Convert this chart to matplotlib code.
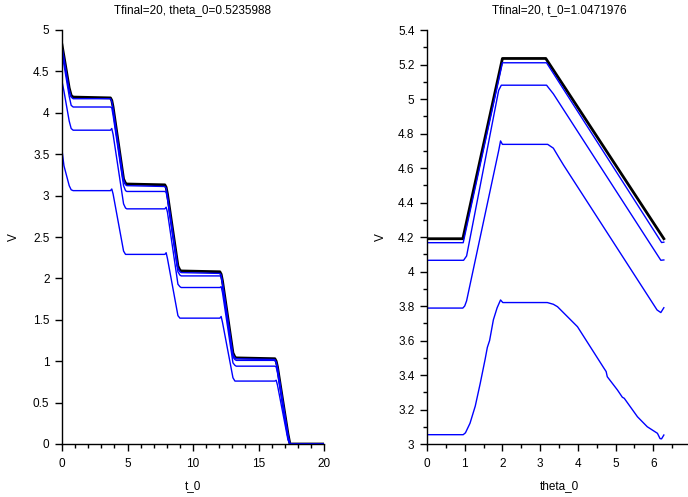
#!/usr/bin/env python
# -*- coding: utf-8 -*-
import sys

import matplotlib
matplotlib.use('Agg')
import matplotlib.pyplot as plt
from matplotlib.ticker import MultipleLocator, NullLocator, FuncFormatter

# left panel: V against t_0 (theta_0 fixed)
t_knots = [0, 0.15, 0.55, 0.7, 0.85,
           3.7, 3.8, 3.9, 4.7, 4.85, 4.95,
           7.85, 7.95, 8.05, 8.85, 9.0, 9.1,
           12.05, 12.15, 12.25, 13.05, 13.2, 13.3,
           16.25, 16.35, 16.45, 17.25, 17.4, 20]
v_t_black = [4.82, 4.68, 4.30, 4.21, 4.19,
             4.18, 4.15, 4.07, 3.20, 3.15, 3.14,
             3.13, 3.10, 3.02, 2.15, 2.10, 2.09,
             2.08, 2.05, 1.97, 1.10, 1.05, 1.04,
             1.03, 1.00, 0.93, 0.12, 0.0, 0.0]
v_t_blue = [
    [4.80, 4.66, 4.28, 4.19, 4.17,
     4.17, 4.14, 4.05, 3.19, 3.13, 3.12,
     3.11, 3.09, 3.00, 2.13, 2.08, 2.07,
     2.06, 2.04, 1.95, 1.08, 1.04, 1.03,
     1.02, 0.99, 0.92, 0.11, 0.0, 0.0],
    [4.72, 4.58, 4.20, 4.09, 4.07,
     4.07, 4.06, 3.97, 3.12, 3.06, 3.05,
     3.05, 3.04, 2.96, 2.08, 2.04, 2.03,
     2.03, 2.02, 1.93, 1.05, 1.02, 1.01,
     1.01, 0.98, 0.91, 0.10, 0.0, 0.0],
    [4.38, 4.26, 3.90, 3.81, 3.79,
     3.79, 3.81, 3.74, 2.90, 2.85, 2.84,
     2.84, 2.86, 2.80, 1.93, 1.90, 1.89,
     1.89, 1.90, 1.83, 0.98, 0.95, 0.94,
     0.94, 0.93, 0.86, 0.08, 0.0, 0.0],
    [3.55, 3.36, 3.12, 3.07, 3.06,
     3.06, 3.08, 3.02, 2.33, 2.29, 2.29,
     2.29, 2.31, 2.24, 1.55, 1.52, 1.52,
     1.52, 1.54, 1.47, 0.80, 0.76, 0.76,
     0.76, 0.77, 0.71, 0.05, 0.0, 0.0],
]

# right panel: V against theta_0 (t_0 fixed)
th_black = [0, 0.95, 2.0, 3.15, 6.28]
v_th_black = [4.19, 4.19, 5.235, 5.235, 4.19]
th_a = [0, 0.96, 2.0, 3.17, 6.22, 6.28]
v_th_a = [4.167, 4.167, 5.21, 5.21, 4.168, 4.17]
th_b = [0, 0.97, 1.05, 1.9, 1.97, 3.17, 3.35, 6.2, 6.28]
v_th_b = [4.065, 4.065, 4.09, 5.05, 5.08, 5.08, 5.03, 4.065, 4.067]
th_c = [0, 0.95, 1.0, 1.05, 1.9, 1.95, 2.0, 3.2, 3.35, 3.5, 3.62,
        5.56, 6.1, 6.2, 6.28]
v_th_c = [3.788, 3.788, 3.80, 3.83, 4.70, 4.757, 4.737, 4.737, 4.715,
          4.66, 4.617, 3.96, 3.777, 3.762, 3.79]
th_d = [0, 0.96, 1.02, 1.14, 1.28, 1.41, 1.54, 1.60, 1.66, 1.76, 1.86,
        1.95, 2.01, 3.19, 3.35, 3.46, 3.99, 4.69, 4.75, 4.78, 5.05, 5.18,
        5.23, 5.58, 5.84, 6.11, 6.18, 6.22, 6.28]
v_th_d = [3.054, 3.054, 3.065, 3.12, 3.22, 3.35, 3.49, 3.56, 3.60, 3.72,
          3.79, 3.835, 3.82, 3.82, 3.81, 3.796, 3.68, 3.44, 3.42, 3.39,
          3.313, 3.271, 3.265, 3.158, 3.10, 3.062, 3.031, 3.03, 3.052]

BLUE = '#0000ff'


def style_axes(ax, xmajor, xminor, ymajor, yminor):
    for side in ('top', 'right'):
        ax.spines[side].set_visible(False)
    for side in ('left', 'bottom'):
        ax.spines[side].set_linewidth(1.0)
    ax.xaxis.set_major_locator(MultipleLocator(xmajor))
    ax.yaxis.set_major_locator(MultipleLocator(ymajor))
    ax.xaxis.set_minor_locator(MultipleLocator(xminor) if xminor else NullLocator())
    ax.yaxis.set_minor_locator(MultipleLocator(yminor) if yminor else NullLocator())
    fmt = FuncFormatter(lambda v, pos: '{:g}'.format(round(v, 6)))
    ax.xaxis.set_major_formatter(fmt)
    ax.yaxis.set_major_formatter(fmt)
    ax.tick_params(which='major', direction='out', length=5, width=1.0,
                   labelsize=8.5)
    ax.tick_params(which='minor', direction='out', length=2.8, width=1.0)
    ax.tick_params(axis='x', pad=5)
    ax.tick_params(axis='y', pad=4)
    ax.tick_params(top=False, right=False, which='both')


def main():
    plt.rcParams['font.family'] = ['Liberation Sans', 'DejaVu Sans']
    fig = plt.figure(figsize=(6.88, 4.97), dpi=100)

    ax1 = fig.add_axes([62 / 688, 53 / 497, 262 / 688, 414 / 497])
    ax1.plot(t_knots, v_t_black, color='black', lw=2.0)
    for v in v_t_blue:
        ax1.plot(t_knots, v, color=BLUE, lw=1.0)
    ax1.set_xlim(0, 20)
    ax1.set_ylim(0, 5)
    style_axes(ax1, 5, 1, 0.5, None)
    ax1.set_title('Tfinal=20, theta_0=0.5235988', fontsize=8.5, pad=12)
    ax1.set_xlabel('t_0', fontsize=8.5)
    ax1.set_ylabel('V', fontsize=8.5)
    ax1.xaxis.set_label_coords(0.5, -0.087)
    ax1.yaxis.set_label_coords(-0.160, 0.5)

    ax2 = fig.add_axes([427 / 688, 53 / 497, 264 / 688, 414 / 497])
    ax2.plot(th_black, v_th_black, color='black', lw=2.0)
    for th, v in ((th_a, v_th_a), (th_b, v_th_b), (th_c, v_th_c), (th_d, v_th_d)):
        ax2.plot(th, v, color=BLUE, lw=1.0)
    ax2.set_xlim(0, 7)
    ax2.set_ylim(3, 5.4)
    style_axes(ax2, 1, 0.5, 0.2, 0.1)
    ax2.set_title('Tfinal=20, t_0=1.0471976', fontsize=8.5, pad=12)
    ax2.set_xlabel('theta_0', fontsize=8.5)
    ax2.set_ylabel('V', fontsize=8.5)
    ax2.xaxis.set_label_coords(0.5, -0.087)
    ax2.yaxis.set_label_coords(-0.152, 0.5)

    fig.savefig('out.png', dpi=100)


if __name__ == '__main__':
    sys.exit(main())
